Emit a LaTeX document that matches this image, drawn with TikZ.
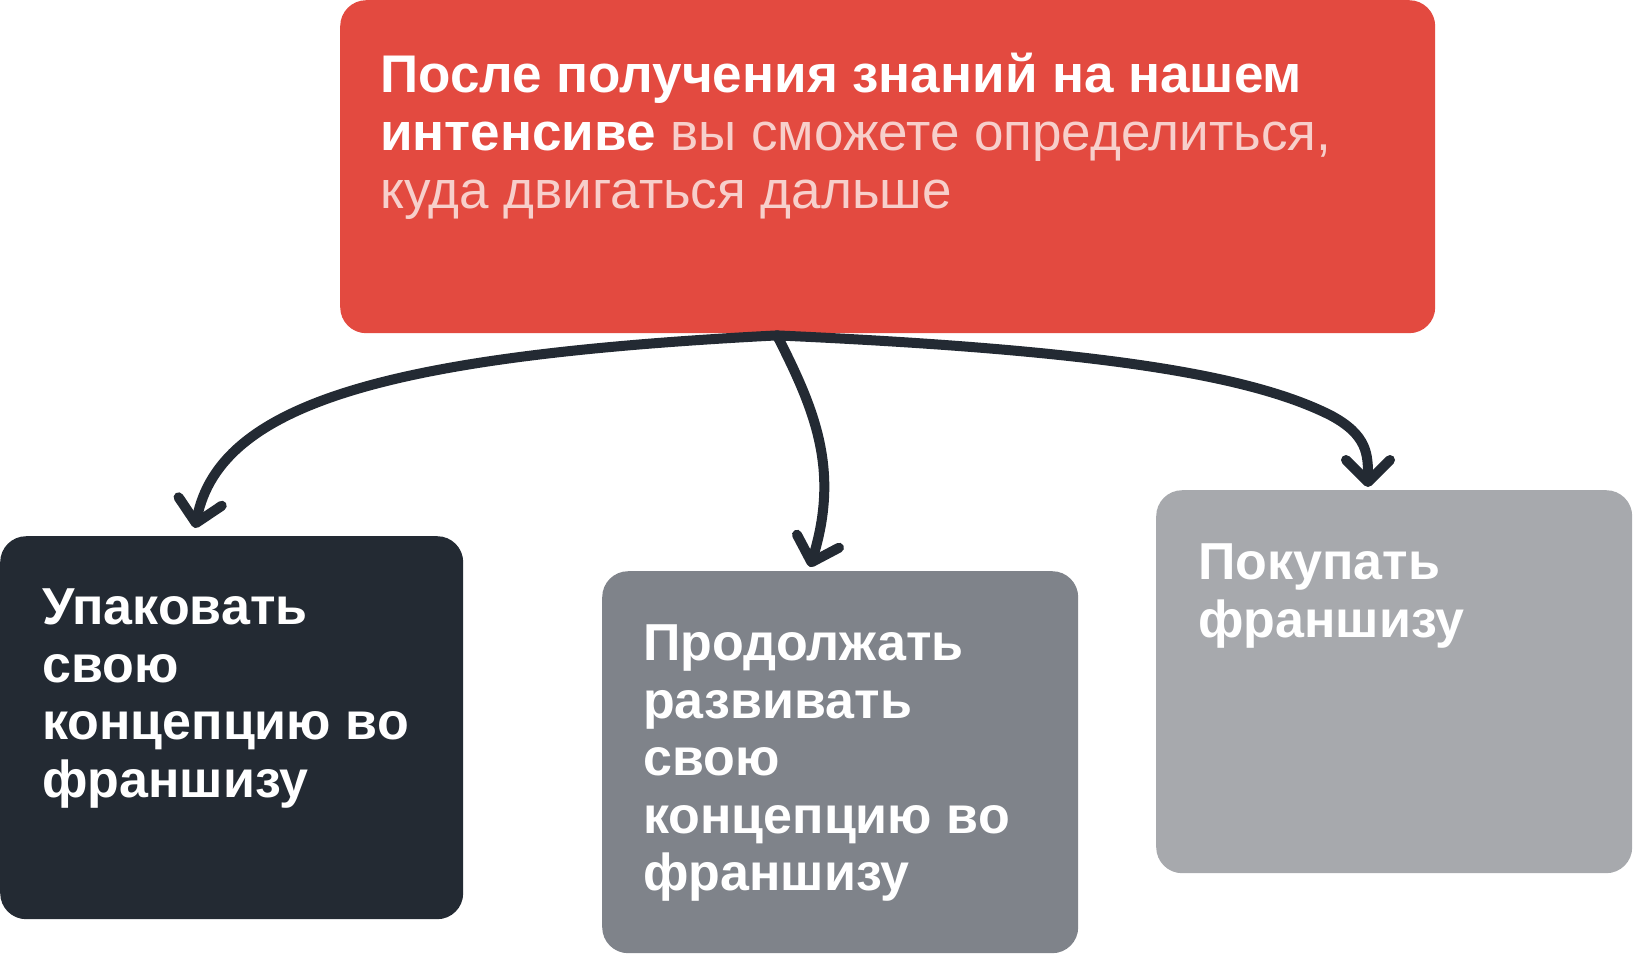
\documentclass[tikz,border=0pt]{standalone}
\usepackage{fontspec}
\setmainfont{Liberation Sans}
\usetikzlibrary{arrows.meta,positioning,calc}
\definecolor{introred}{HTML}{E34A40}
\definecolor{inkdark}{HTML}{232A33}
\definecolor{midgrey}{HTML}{7F838A}
\definecolor{lightgrey}{HTML}{A7A9AD}
\definecolor{pinktext}{HTML}{F7CFCB}

\begin{document}
\begin{tikzpicture}[x=1pt, y=-1pt,
    card/.style={rounded corners=26pt, anchor=north west, inner sep=0pt},
    txt/.style={anchor=north west, align=left, inner sep=0pt, text=white, font=\fontsize{52}{57.5}\selectfont\bfseries},
    arr/.style={-{Straight Barb[length=22pt,width=44pt,round]}, line width=10pt, line cap=round, draw=inkdark}
]
\useasboundingbox (0,0) rectangle (1633,955);

\node[card, fill=introred, minimum width=1095pt, minimum height=333pt] (intro) at (340,0) {};
\node[card, fill=inkdark, minimum width=463pt, minimum height=383pt] (pack) at (0,536) {};
\node[card, fill=midgrey, minimum width=476pt, minimum height=382pt] (grow) at (602,571) {};
\node[card, fill=lightgrey, minimum width=476pt, minimum height=383pt] (buy) at (1156,490) {};

\node[txt, font=\fontsize{53}{58}\selectfont\bfseries] (introtext) at ($(intro.north west)+(40,53)$) {После получения знаний на нашем\\
  интенсиве \color{pinktext}\mdseries вы сможете определиться,\\
  \color{pinktext}\mdseries куда двигаться дальше};
\node[txt] (packtext) at ($(pack.north west)+(42,53)$) {Упаковать\\свою\\концепцию во\\франшизу};
\node[txt] (growtext) at ($(grow.north west)+(41,54)$) {Продолжать\\развивать\\свою\\концепцию во\\франшизу};
\node[txt] (buytext) at ($(buy.north west)+(42,54)$) {Покупать\\франшизу};

\coordinate (fork) at ($(intro.south west)+(437,2)$);
\coordinate (packtip) at ($(pack.north west)+(195,-8)$);
\coordinate (growtip) at ($(grow.north west)+(208,-4)$);
\coordinate (buytip) at ($(buy.north west)+(212,-3)$);

\draw[arr] (fork) .. controls (400,355) and (220,400) .. (packtip);
\draw[arr] (fork) .. controls (815,410) and (840,470) .. (growtip);
\draw[arr] (fork) .. controls (1100,350) and (1250,375) .. (1330,415) .. controls (1368,435) and (1368,455) .. (buytip);
\end{tikzpicture}
\end{document}
